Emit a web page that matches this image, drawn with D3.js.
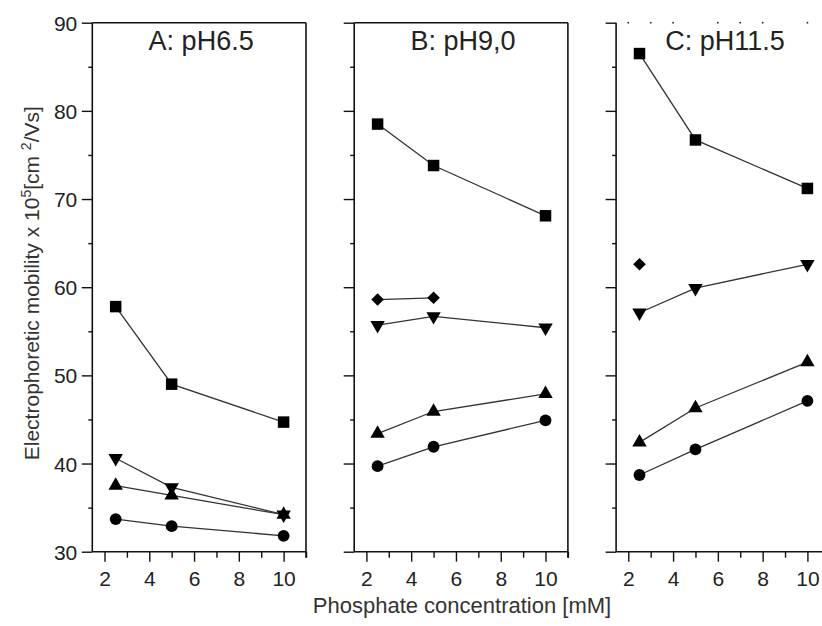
<!DOCTYPE html>
<html>
<head>
<meta charset="utf-8">
<script src="https://cdn.jsdelivr.net/npm/d3@7"></script>
<style>
  body { margin: 0; background: #fff; }
  svg { display: block; font-family: "Liberation Sans", Arial, sans-serif; }
  .tick text { fill: #222; }
</style>
</head>
<body>
<div id="chart"></div>
<script>
// data
var conc = [2.5, 5, 10];
var titles = ["A: pH6.5", "B: pH9,0", "C: pH11.5"];
var squares  = [[57.8, 49.0, 44.7], [78.5, 73.8, 68.1], [86.5, 76.7, 71.2]];
var diamonds = [[], [58.6, 58.8], [62.6]];
var downTri  = [[40.6, 37.3, 34.2], [55.7, 56.7, 55.4], [57.1, 59.9, 62.6]];
var upTri    = [[37.5, 36.4, 34.2], [43.4, 45.9, 47.9], [42.4, 46.3, 51.5]];
var circles  = [[33.7, 32.9, 31.8], [39.7, 41.9, 44.9], [38.7, 41.6, 47.1]];
var yTicks = [30, 40, 50, 60, 70, 80, 90];
var xTicks = [2, 4, 6, 8, 10];
var topDots = [2, 3, 4, 6, 7, 8, 10];

var width = 822, height = 626;
var svg = d3.select("#chart").append("svg")
    .attr("width", width)
    .attr("height", height);

var yTop = 22.7, yBottom = 551.7, pw = 213.7;
var lefts = [92.3, 354.2, 616.1];

var y = d3.scaleLinear().domain([30, 90]).range([yBottom, yTop]);

var series = [
  {data: squares,  type: d3.symbolSquare,  size: 132, rot: 0},
  {data: diamonds, type: d3.symbolSquare,  size: 80,  rot: 45},
  {data: downTri,  type: d3.symbolTriangle, size: 90, rot: 180},
  {data: upTri,    type: d3.symbolTriangle, size: 90, rot: 0},
  {data: circles,  type: d3.symbolCircle,  size: 110, rot: 0}
];

lefts.forEach(function(L, i) {
  var x = d3.scaleLinear().domain([1.455, 11]).range([L, L + pw]);
  var g = svg.append("g");

  // y axis, labels only on first panel
  var yAxis = d3.axisLeft(y)
      .tickValues(d3.range(30, 91, 5))
      .tickSize(0)
      .tickFormat(function(d) { return i == 0 && yTicks.indexOf(d) >= 0 ? d : ""; });
  var ya = g.append("g").attr("transform", "translate(" + L + ",0)").call(yAxis);
  ya.select(".domain").remove();
  ya.selectAll(".tick line")
      .attr("x2", function(d) { return d % 10 == 0 ? -10.5 : -4; })
      .attr("stroke", "#111").attr("stroke-width", 1.4);
  ya.selectAll(".tick text").attr("x", -15).attr("font-size", 21).attr("dy", "0.36em");

  var xAxis = d3.axisBottom(x)
      .tickValues(d3.range(2, 12))
      .tickSize(0)
      .tickFormat(function(d) { return xTicks.indexOf(d) >= 0 ? d : ""; });
  var xa = g.append("g").attr("transform", "translate(0," + yBottom + ")").call(xAxis);
  xa.select(".domain").remove();
  xa.selectAll(".tick line")
      .attr("y2", function(d) { return d % 2 == 0 ? 10 : 6; })
      .attr("stroke", "#111").attr("stroke-width", 1.4);
  xa.selectAll(".tick text").attr("y", 19).attr("font-size", 21).attr("dy", "0.71em");

  // frame
  g.append("line").attr("x1", L).attr("x2", L).attr("y1", yTop).attr("y2", yBottom)
      .attr("stroke", "#111").attr("stroke-width", 1.6);
  g.append("line").attr("x1", L).attr("x2", L + pw).attr("y1", yBottom).attr("y2", yBottom)
      .attr("stroke", "#111").attr("stroke-width", 1.6);
  if (i < 2) {
    g.append("line").attr("x1", L).attr("x2", L + pw).attr("y1", yTop).attr("y2", yTop)
        .attr("stroke", "#111").attr("stroke-width", 1.6);
    g.append("line").attr("x1", L + pw).attr("x2", L + pw).attr("y1", yTop).attr("y2", yBottom + 6)
        .attr("stroke", "#111").attr("stroke-width", 1.6);
  } else {
    g.selectAll(".topdot").data(topDots).enter().append("rect")
        .attr("x", function(d) { return x(d) - 0.8; })
        .attr("y", yTop - 0.8)
        .attr("width", 1.6).attr("height", 1.6)
        .attr("fill", "#222");
  }

  g.append("text")
      .attr("x", L + pw / 2 + 2)
      .attr("y", 50)
      .attr("text-anchor", "middle")
      .attr("font-size", 27)
      .attr("fill", "#222")
      .text(titles[i]);

  var line = d3.line()
      .x(function(d, j) { return x(conc[j]); })
      .y(function(d) { return y(d); });

  series.forEach(function(s) {
    var vals = s.data[i];
    if (vals.length > 1) {
      g.append("path").attr("d", line(vals))
          .attr("fill", "none").attr("stroke", "#333").attr("stroke-width", 1.3);
    }
  });

  series.forEach(function(s) {
    var vals = s.data[i];
    g.selectAll(null).data(vals).enter().append("path")
        .attr("d", d3.symbol().type(s.type).size(s.size))
        .attr("transform", function(d, j) {
          return "translate(" + x(conc[j]) + "," + y(d) + ") rotate(" + s.rot + ")";
        })
        .attr("fill", "#000");
  });
});

// axis titles
var yl = svg.append("text")
    .attr("transform", "translate(39," + ((yBottom + yTop) / 2 - 4) + ") rotate(-90)")
    .attr("text-anchor", "middle")
    .attr("font-size", 21)
    .attr("fill", "#333");
yl.append("tspan").text("Electrophoretic mobility x 10");
yl.append("tspan").attr("font-size", 14).attr("dy", -8).text("5");
yl.append("tspan").attr("dy", 8).text("[cm ");
yl.append("tspan").attr("font-size", 14).attr("dy", -8).text("2");
yl.append("tspan").attr("dy", 8).text("/Vs]");

svg.append("text")
    .attr("x", 462)
    .attr("y", 613)
    .attr("text-anchor", "middle")
    .attr("font-size", 22)
    .attr("fill", "#333")
    .text("Phosphate concentration [mM]");
</script>
</body>
</html>
